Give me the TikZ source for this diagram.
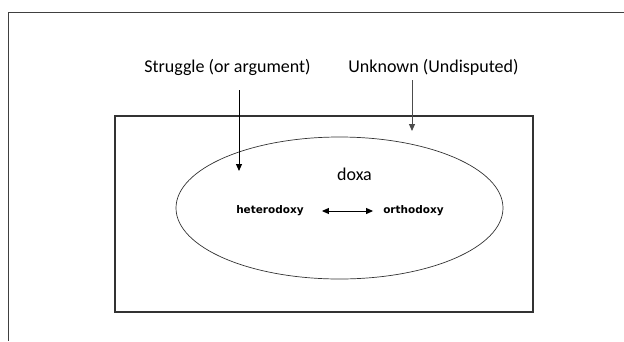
\documentclass[tikz,border=0pt]{standalone}
\usepackage{fontspec}
\setmainfont{Carlito}
\newfontfamily\smallsans{DejaVu Sans}
\usetikzlibrary{arrows.meta}
\begin{document}
\begin{tikzpicture}[x=1pt,y=-1pt,
  frameline/.style={draw=black!75,line width=1pt},
  boxline/.style={draw=black!80,line width=1.1pt},
  ovalline/.style={draw=black!80,line width=0.7pt},
  bigtext/.style={inner sep=0pt,font=\fontsize{18}{21}\selectfont},
  smalltext/.style={inner sep=0pt,font=\smallsans\bfseries\fontsize{10.5}{12}\selectfont},
  arr/.style={line width=1pt,-{Triangle[length=7pt,width=6pt]}}]
\useasboundingbox (0,0) rectangle (624,341);
% outer frame (top and left only visible)
\coordinate (ftr) at (624,12);
\coordinate (ftl) at (8,12);
\coordinate (fbl) at (8,341);
\draw[frameline] (ftr) -- (ftl) -- (fbl);
% inner rectangle
\node[boxline,minimum width=418pt,minimum height=196pt,inner sep=0pt] (box) at (324,214) {};
% ellipse
\draw[ovalline] (339.5,208) ellipse [x radius=163.5, y radius=71];
% texts
\node[bigtext] (struggle) at (227.5,67) {Struggle (or argument)};
\node[bigtext] (unknown) at (433.5,67) {Unknown (Undisputed)};
\node[bigtext] (doxa) at (354.5,174) {doxa};
\node[smalltext] (hetero) at (270,211) {heterodoxy};
\node[smalltext] (ortho) at (413.5,211) {orthodoxy};
% arrows
\coordinate (a1s) at (239,90);
\coordinate (a1e) at (239,171);
\coordinate (a2s) at (412,80);
\coordinate (a2e) at (412,131);
\draw[arr,black] (a1s) -- (a1e);
\draw[arr,black!70] (a2s) -- (a2e);
\draw[line width=1pt,{Triangle[length=7pt,width=6pt]}-{Triangle[length=7pt,width=6pt]}] ([xshift=18pt]hetero.east) -- ([xshift=-10pt]ortho.west);
\end{tikzpicture}
\end{document}
